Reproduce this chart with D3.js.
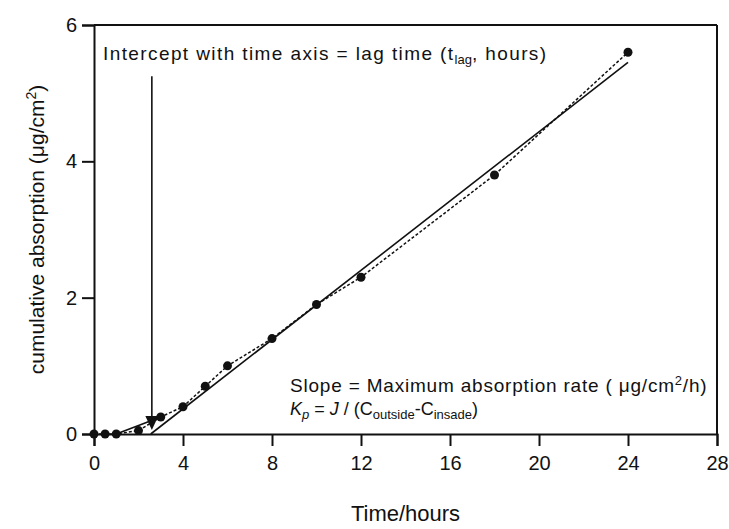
<!DOCTYPE html>
<html>
<head>
<meta charset="utf-8">
<script src="https://cdn.jsdelivr.net/npm/d3@7"></script>
<style>
  body { margin: 0; background: #fff; }
  text { font-family: Arial, "Liberation Sans", sans-serif; fill: #111; }
</style>
</head>
<body>
<svg id="chart"></svg>
<script>
// measured points
const hours = [0, 0.5, 1, 2, 3, 4, 5, 6, 8, 10, 12, 18, 24];
const absorbed = [0, 0, 0, 0.05, 0.25, 0.4, 0.7, 1.0, 1.4, 1.9, 2.3, 3.8, 5.6];

// steady-state fit line and lag segment
const fitX = [2.55, 24];
const fitY = [0, 5.45];
const lagX = [1, 3];
const lagY = [0, 0.25];

// arrow marking lag time
const arrowX = 2.6;
const arrowTop = 5.25;
const arrowTip = 0.06;

const xTicks = [0, 4, 8, 12, 16, 20, 24, 28];
const yTicks = [0, 2, 4, 6];

const width = 729, height = 529;
const margin = { top: 25, right: 12, bottom: 95, left: 94 };
const w = 717 - margin.left;
const h = 434 - margin.top;

const svg = d3.select("#chart")
    .attr("width", width)
    .attr("height", height);

const g = svg.append("g")
    .attr("transform", `translate(${margin.left}, ${margin.top})`);

const x = d3.scaleLinear().domain([0, 28]).range([0, w]);
const y = d3.scaleLinear().domain([0, 6]).range([h, 0]);

// frame top and right
g.append("line").attr("x1", 0).attr("x2", w).attr("y1", 0).attr("y2", 0)
    .attr("stroke", "#111").attr("stroke-width", 2);
g.append("line").attr("x1", w).attr("x2", w).attr("y1", 0).attr("y2", h)
    .attr("stroke", "#111").attr("stroke-width", 2);

// axes
const xAxis = g.append("g")
    .attr("transform", `translate(0, ${h})`)
    .call(d3.axisBottom(x).tickValues(xTicks).tickSize(12).tickPadding(10).tickFormat(d3.format("d")));
const yAxis = g.append("g")
    .call(d3.axisLeft(y).tickValues(yTicks).tickSize(12).tickPadding(5).tickFormat(d3.format("d")));

[xAxis, yAxis].forEach(a => {
    a.select(".domain").attr("stroke", "#111").attr("stroke-width", 2);
    a.selectAll(".tick line").attr("stroke", "#111").attr("stroke-width", 2);
    a.selectAll("text").style("font-size", "20px").attr("fill", "#111")
        .style("font-family", "Arial, 'Liberation Sans', sans-serif");
});

const line = d3.line().x(d => x(d[0])).y(d => y(d[1]));

// dotted line through the data
g.append("path")
    .datum(hours.map((t, i) => [t, absorbed[i]]))
    .attr("d", line)
    .attr("fill", "none")
    .attr("stroke", "#111")
    .attr("stroke-width", 1.5)
    .attr("stroke-dasharray", "3,2");

// fitted line
g.append("path")
    .datum(fitX.map((t, i) => [t, fitY[i]]))
    .attr("d", line)
    .attr("fill", "none")
    .attr("stroke", "#111")
    .attr("stroke-width", 1.6);

g.append("path")
    .datum(lagX.map((t, i) => [t, lagY[i]]))
    .attr("d", line)
    .attr("fill", "none")
    .attr("stroke", "#111")
    .attr("stroke-width", 1.6);

// points
g.selectAll(".pt")
    .data(hours.map((t, i) => [t, absorbed[i]]))
    .enter()
    .append("circle")
    .attr("class", "pt")
    .attr("cx", d => x(d[0]))
    .attr("cy", d => y(d[1]))
    .attr("r", 4.5)
    .attr("fill", "#111");

// arrow
const ax = x(arrowX), ay = y(arrowTip);
g.append("line")
    .attr("x1", ax).attr("x2", ax)
    .attr("y1", y(arrowTop)).attr("y2", ay - 8)
    .attr("stroke", "#111").attr("stroke-width", 1.6);
g.append("path")
    .attr("d", `M${ax - 6.5},${ay - 14} L${ax + 6.5},${ay - 14} L${ax},${ay} Z`)
    .attr("fill", "#111");

// annotations
const t1 = svg.append("text")
    .attr("x", 103).attr("y", 60)
    .style("font-size", "19px")
    .style("letter-spacing", "1.4px");
t1.append("tspan").text("Intercept with time axis = lag time (t");
t1.append("tspan").text("lag").style("font-size", "13px").style("letter-spacing", "0px").attr("dy", 4);
t1.append("tspan").text(", hours)").attr("dy", -4);

const t2 = svg.append("text")
    .attr("x", 290).attr("y", 392)
    .style("font-size", "19px")
    .style("letter-spacing", "0.8px");
t2.append("tspan").text("Slope = Maximum absorption rate ( \u03bcg/cm");
t2.append("tspan").text("2").style("font-size", "13px").attr("dy", -7);
t2.append("tspan").text("/h)").attr("dy", 7);

const t3 = svg.append("text")
    .attr("x", 290).attr("y", 415)
    .style("font-size", "18px");
t3.append("tspan").text("K").style("font-style", "italic");
t3.append("tspan").text("p").style("font-style", "italic").style("font-size", "13px").attr("dy", 4);
t3.append("tspan").text(" = ").attr("dy", -4);
t3.append("tspan").text("J").style("font-style", "italic");
t3.append("tspan").text(" / (C");
t3.append("tspan").text("outside").style("font-size", "13px").attr("dy", 4);
t3.append("tspan").text("-C").attr("dy", -4);
t3.append("tspan").text("insade").style("font-size", "13px").attr("dy", 4);
t3.append("tspan").text(")").attr("dy", -4);

// axis titles
svg.append("text")
    .attr("x", margin.left + w / 2).attr("y", 521)
    .attr("text-anchor", "middle")
    .style("font-size", "22px")
    .text("Time/hours");

const yl = svg.append("text")
    .attr("transform", `translate(44, ${margin.top + h / 2}) rotate(-90)`)
    .attr("text-anchor", "middle")
    .style("font-size", "21px");
yl.append("tspan").text("cumulative absorption (\u03bcg/cm");
yl.append("tspan").text("2").style("font-size", "14px").attr("dy", -8);
yl.append("tspan").text(")").attr("dy", 8);
</script>
</body>
</html>
